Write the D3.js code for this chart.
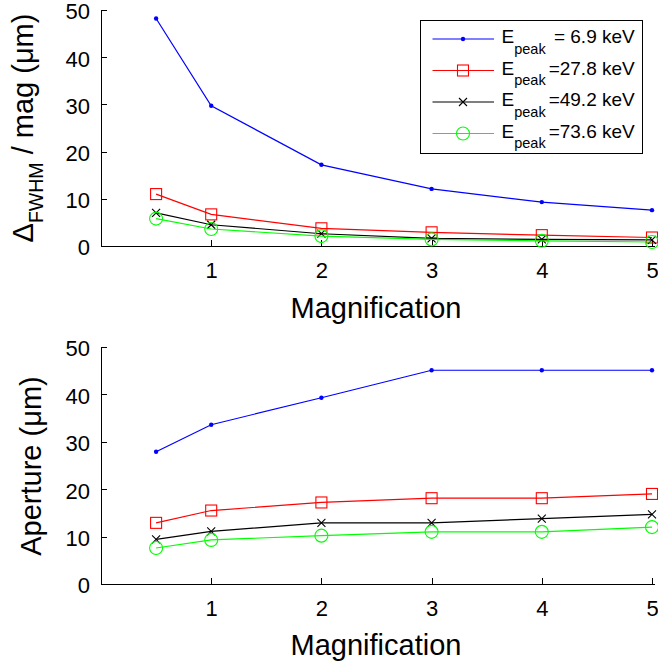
<!DOCTYPE html>
<html>
<head>
<meta charset="utf-8">
<script src="https://cdn.jsdelivr.net/npm/d3@7"></script>
<style>
  html, body { margin: 0; padding: 0; background: #fff; }
  svg { display: block; font-family: "Liberation Sans", Arial, Helvetica, sans-serif; }
</style>
</head>
<body>
<svg id="chart" width="658" height="668"></svg>
<script>
// Magnification values shared by both panels
const magnification = [0.5, 1, 2, 3, 4, 5];
const xTicks = [1, 2, 3, 4, 5];
const yTicks = [0, 10, 20, 30, 40, 50];

// Series labels (peak energies)
const energyLabels = [" = 6.9 keV", "=27.8 keV", "=49.2 keV", "=73.6 keV"];

// Top panel: FWHM / magnification (µm)
const fwhm69 = [48.2, 29.7, 17.2, 12.1, 9.3, 7.6];
const fwhm278 = [11.0, 6.7, 3.75, 2.9, 2.3, 1.8];
const fwhm492 = [7.0, 4.5, 2.6, 1.6, 1.4, 1.3];
const fwhm736 = [5.8, 3.6, 2.1, 1.4, 1.1, 0.85];

// Bottom panel: aperture (µm)
const aper69 = [27.9, 33.6, 39.3, 45.1, 45.1, 45.1];
const aper278 = [12.9, 15.5, 17.2, 18.1, 18.1, 19.0];
const aper492 = [9.4, 11.1, 12.9, 12.9, 13.8, 14.7];
const aper736 = [7.6, 9.3, 10.2, 11.0, 11.0, 12.0];

const colors = ["#0000ff", "#ff0000", "#000000", "#00ff00"];
const markers = ["dot", "square", "cross", "circle"];

const svg = d3.select("#chart");

function drawMarker(g, type, color, x, y) {
  if (type === "dot") {
    g.append("circle").attr("cx", x).attr("cy", y).attr("r", 2.2).attr("fill", color);
  } else if (type === "square") {
    g.append("rect").attr("x", x - 5.5).attr("y", y - 5.5).attr("width", 11).attr("height", 11)
      .attr("fill", "none").attr("stroke", color).attr("stroke-width", 1.1);
  } else if (type === "cross") {
    g.append("path").attr("d", `M${x - 4},${y - 4}L${x + 4},${y + 4}M${x - 4},${y + 4}L${x + 4},${y - 4}`)
      .attr("stroke", color).attr("stroke-width", 1.1).attr("fill", "none");
  } else {
    g.append("circle").attr("cx", x).attr("cy", y).attr("r", 6.5)
      .attr("fill", "none").attr("stroke", color).attr("stroke-width", 1.1);
  }
}

function panel(opts) {
  const x = d3.scaleLinear().domain([0, 5]).range([101, 652]);
  const y = d3.scaleLinear().domain([0, 50]).range([opts.bottom, opts.top]);
  const g = svg.append("g");

  // axes with inward ticks
  const ax = g.append("g").attr("transform", `translate(0,${opts.bottom})`)
    .call(d3.axisBottom(x).tickValues(xTicks).tickFormat(d3.format("d"))
      .tickSizeInner(-6).tickSizeOuter(0).tickPadding(16.5));
  const ay = g.append("g").attr("transform", `translate(101,0)`)
    .call(d3.axisLeft(y).tickValues(yTicks).tickFormat(d3.format("d"))
      .tickSizeInner(-6).tickSizeOuter(0).tickPadding(11));
  [ax, ay].forEach(a => {
    a.selectAll("path, line").attr("stroke", "#000").attr("stroke-width", 1).attr("shape-rendering", "crispEdges");
    a.selectAll("text").attr("font-size", 22).attr("fill", "#000")
      .attr("font-family", '"Liberation Sans", Arial, sans-serif');
  });
  ay.selectAll("text").attr("dy", "0.4em");
  ax.select(".domain").attr("d", `M101,0.5H655`);

  // series
  const line = d3.line().x((d, i) => x(magnification[i])).y(d => y(d));
  opts.series.forEach((s, k) => {
    g.append("path").datum(s).attr("d", line).attr("fill", "none")
      .attr("stroke", colors[k]).attr("stroke-width", 1.2);
    s.forEach((v, i) => drawMarker(g, markers[k], colors[k], x(magnification[i]), y(v)));
  });

  // x label
  g.append("text").attr("x", 376).attr("y", opts.xLabelY).attr("text-anchor", "middle")
    .attr("font-size", 29).attr("fill", "#000").text("Magnification");

  return g;
}

const topPanel = panel({ top: 10, bottom: 246, xLabelY: 318, series: [fwhm69, fwhm278, fwhm492, fwhm736] });
const bottomPanel = panel({ top: 347, bottom: 584, xLabelY: 655, series: [aper69, aper278, aper492, aper736] });

// y labels
const yl1 = topPanel.append("text").attr("transform", "translate(32.5,128) rotate(-90)")
  .attr("text-anchor", "middle").attr("font-size", 29).attr("fill", "#000");
yl1.append("tspan").text("Δ");
yl1.append("tspan").attr("font-size", 19.5).attr("dy", 10.5).text("FWHM");
yl1.append("tspan").attr("dy", -10.5).text(" / mag (μm)");

bottomPanel.append("text").attr("transform", "translate(41,466) rotate(-90)")
  .attr("text-anchor", "middle").attr("font-size", 29).attr("fill", "#000").text("Aperture (μm)");

// legend
const lg = svg.append("g");
lg.append("rect").attr("x", 420.5).attr("y", 20.5).attr("width", 222).attr("height", 133)
  .attr("fill", "#fff").attr("stroke", "#000").attr("stroke-width", 1);
const rowY = [39, 70.5, 102, 133.5];
energyLabels.forEach((lab, k) => {
  const yy = rowY[k];
  lg.append("line").attr("x1", 432.5).attr("x2", 494).attr("y1", yy).attr("y2", yy)
    .attr("stroke", colors[k]).attr("stroke-width", 1.2);
  drawMarker(lg, markers[k], colors[k], 463, yy);
  const t = lg.append("text").attr("x", 501.5).attr("y", yy + 4).attr("font-size", 19).attr("fill", "#000");
  t.append("tspan").text("E");
  t.append("tspan").attr("font-size", 14.5).attr("dy", 10.5).text("peak");
  t.append("tspan").attr("dy", -10.5).attr("dx", 3).text(lab);
});
</script>
</body>
</html>
